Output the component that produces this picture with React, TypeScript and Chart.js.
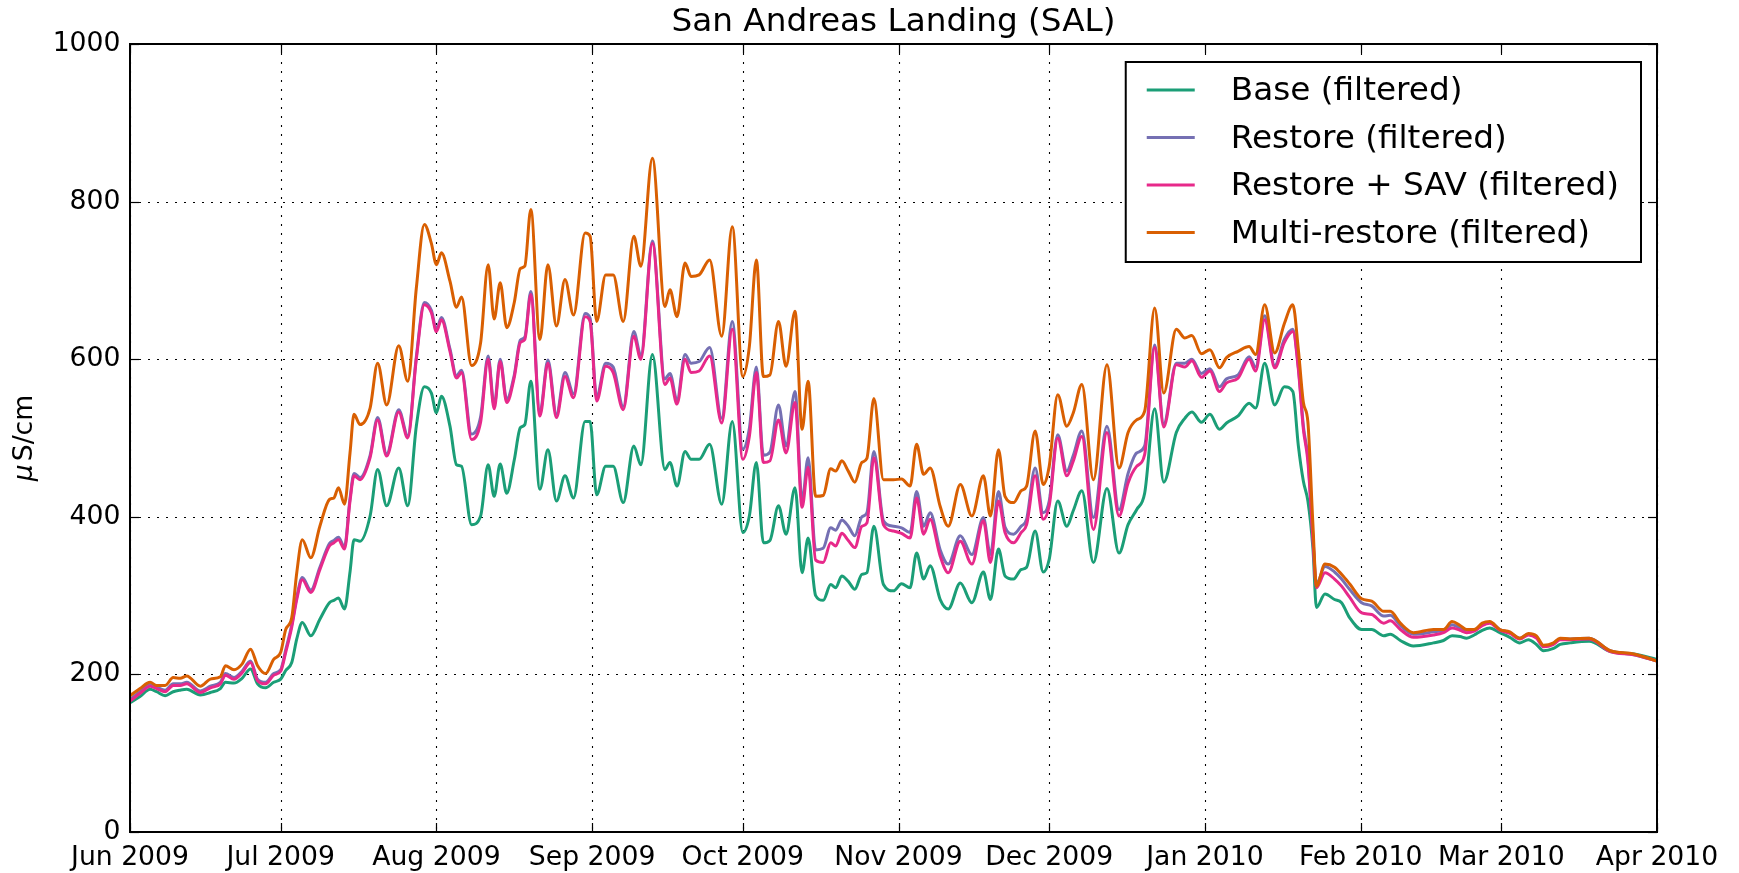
import React, { useEffect, useRef } from "react";
import { Chart, registerables } from "chart.js";

Chart.register(...registerables);

// Day offsets counted from 1 Jun 2009
const days = [
  0, 2, 4, 5.3, 7, 8.6, 10, 11.3, 14, 16,
  18, 19, 20.7, 22.3, 24, 25.4, 27, 28.6, 30, 31,
  32.2, 33.2, 34.3, 36, 37.8, 39.7, 40.6, 41.5, 42.7, 43.8,
  44.6, 45.8, 47.8, 49.3, 51.1, 53.5, 55.3, 57, 58.6, 60,
  61, 62, 63.7, 65, 66, 68, 69.8, 71.3, 72.5, 73.7,
  75, 76.5, 77.7, 78.6, 79.8, 81.6, 83.2, 84.9, 86.6, 88.3,
  90.6, 91.6, 92.9, 94.7, 96.2, 98.2, 100.3, 101.7, 104, 106.5,
  107.5, 108.9, 110.5, 111.7, 113.3, 115.4, 117.8, 119.9, 122, 123.3,
  124.7, 126.1, 127.4, 129.1, 130.6, 132.4, 133.8, 135, 136.5, 138,
  139.5, 140.5, 141.7, 143, 144.3, 145.7, 146.7, 148.1, 150, 152,
  153.6, 155.3, 156.6, 158, 159.3, 161.3, 162.9, 165.3, 167.6, 169.9,
  171.3, 172.9, 174.2, 175.9, 177.4, 178.5, 180.2, 181.8, 183, 184.7,
  186.5, 187.8, 189.5, 191.8, 194.5, 196.9, 198.7, 200.4, 202, 204,
  205.8, 208.3, 210, 211.4, 213.3, 215, 216.9, 218.3, 220.6, 222.8,
  224.1, 225.9, 227.9, 229.8, 231.5, 232.6, 233.6, 234.5, 235.5, 236.2,
  237.9, 239.8, 241.2, 242.8, 245.2, 247.2, 249.6, 250.9, 252.9, 255.5,
  259.5, 261.5, 263.2, 264.8, 266.1, 267.6, 269.2, 270.7, 272.7, 274.7,
  276.7, 278.4, 280, 281.4, 283.4, 284.7, 286.7, 290.5, 294.7, 299.4,
  304,
];

const base = [
  164, 172, 181, 178, 173, 178, 180, 181, 174, 177,
  182, 190, 189, 195, 207, 188, 183, 190, 194, 205,
  215, 245, 266, 249, 270, 291, 294, 297, 283, 330,
  371, 369, 401, 460, 414, 462, 414, 515, 565, 557,
  532, 553, 515, 466, 464, 390, 401, 466, 426, 467,
  430, 472, 513, 517, 572, 435, 485, 420, 452, 424,
  521, 521, 428, 464, 464, 418, 490, 466, 606, 460,
  469, 439, 483, 473, 473, 492, 416, 521, 380, 401,
  469, 367, 370, 414, 378, 437, 329, 373, 300, 294,
  314, 310, 325, 318, 308, 327, 329, 388, 314, 306,
  315, 310, 354, 321, 338, 295, 283, 316, 291, 330,
  295, 359, 325, 321, 333, 336, 382, 330, 346, 420,
  388, 408, 433, 342, 436, 354, 390, 409, 430, 537,
  444, 507, 525, 533, 520, 530, 511, 519, 528, 544,
  538, 595, 542, 565, 559, 490, 445, 420, 360, 285,
  302, 295, 291, 272, 257, 257, 249, 251, 243, 236,
  240, 243, 249, 248, 246, 250, 256, 259, 253, 247,
  240, 244, 238, 230, 233, 238, 240, 242, 229, 226,
  219,
];

const restore = [
  168, 178, 187, 184, 180, 188, 188, 190, 179, 185,
  190, 201, 196, 204, 217, 194, 190, 201, 206, 231,
  263, 298, 323, 307, 336, 366, 370, 374, 362, 423,
  455, 450, 478, 526, 480, 536, 503, 603, 672, 662,
  638, 653, 613, 579, 586, 505, 527, 604, 541, 600,
  549, 580, 624, 628, 686, 532, 599, 530, 583, 556,
  658, 652, 552, 595, 590, 540, 635, 605, 750, 575,
  582, 548, 606, 595, 597, 615, 525, 648, 486, 512,
  590, 478, 482, 542, 490, 559, 420, 475, 358, 360,
  386, 383, 396, 388, 376, 400, 405, 483, 395, 388,
  386, 380, 432, 388, 405, 358, 340, 376, 352, 399,
  352, 432, 387, 378, 388, 397, 462, 405, 420, 504,
  458, 478, 509, 399, 515, 409, 455, 481, 490, 618,
  518, 595, 595, 600, 582, 588, 565, 575, 580, 603,
  590, 655, 592, 625, 638, 590, 515, 475, 375, 315,
  337, 330, 321, 308, 291, 287, 274, 275, 262, 251,
  254, 256, 263, 259, 256, 256, 263, 266, 257, 253,
  246, 251, 247, 236, 239, 245, 245, 246, 230, 225,
  217,
];

const restoreSav = [
  166, 176, 185, 182, 178, 186, 186, 188, 177, 183,
  188, 199, 194, 202, 215, 192, 188, 199, 204, 228,
  260, 295, 320, 304, 333, 363, 367, 371, 359, 420,
  452, 447, 475, 523, 477, 533, 500, 600, 669, 659,
  635, 650, 610, 576, 583, 498, 520, 600, 537, 597,
  545, 577, 621, 625, 682, 528, 595, 526, 578, 551,
  654, 648, 547, 591, 583, 536, 629, 600, 747, 568,
  576, 543, 600, 583, 585, 604, 519, 638, 473, 502,
  583, 469, 471, 523, 481, 545, 412, 463, 345, 342,
  367, 363, 379, 370, 361, 388, 392, 475, 390, 382,
  379, 373, 424, 378, 397, 350, 329, 369, 340, 395,
  342, 420, 380, 367, 380, 390, 452, 397, 414, 500,
  452, 471, 502, 384, 507, 401, 443, 464, 479, 615,
  514, 593, 590, 598, 577, 585, 559, 570, 576, 600,
  585, 650, 589, 621, 635, 587, 511, 470, 371, 310,
  329, 321, 312, 298, 278, 276, 265, 268, 257, 247,
  250, 253, 259, 256, 253, 255, 262, 265, 256, 252,
  245, 250, 246, 235, 238, 244, 244, 245, 229, 225,
  217,
];

const multiRestore = [
  173, 182, 190, 186, 186, 196, 195, 198, 185, 194,
  197, 211, 206, 213, 232, 211, 201, 219, 228, 257,
  272, 329, 371, 348, 388, 422, 424, 437, 416, 481,
  530, 517, 538, 595, 542, 617, 572, 690, 771, 747,
  720, 735, 699, 666, 679, 592, 621, 720, 651, 697,
  640, 672, 715, 718, 790, 625, 720, 642, 701, 656,
  760, 756, 648, 707, 707, 648, 756, 718, 855, 667,
  688, 654, 722, 705, 707, 726, 629, 768, 578, 616,
  726, 578, 580, 648, 591, 661, 511, 572, 426, 427,
  461, 458, 471, 458, 444, 469, 474, 550, 447, 447,
  448, 439, 492, 454, 462, 413, 388, 441, 401, 452,
  401, 485, 426, 418, 433, 439, 509, 441, 464, 555,
  515, 532, 568, 447, 593, 462, 507, 523, 534, 665,
  557, 638, 627, 630, 607, 612, 589, 602, 610, 616,
  606, 669, 608, 645, 669, 612, 545, 520, 390, 312,
  340, 336, 327, 315, 296, 293, 280, 280, 265, 253,
  257, 257, 267, 262, 257, 257, 265, 267, 257, 254,
  246, 252, 249, 237, 240, 246, 245, 246, 230, 226,
  217,
];

const monthTickDays = [0, 30, 61, 92, 122, 153, 183, 214, 245, 273, 304];
const monthTickLabels = [
  "Jun 2009", "Jul 2009", "Aug 2009", "Sep 2009", "Oct 2009", "Nov 2009",
  "Dec 2009", "Jan 2010", "Feb 2010", "Mar 2010", "Apr 2010",
];
const yTickValues = [0, 200, 400, 600, 800, 1000];

const seriesLabels = [
  "Base (filtered)",
  "Restore (filtered)",
  "Restore + SAV (filtered)",
  "Multi-restore (filtered)",
];
const seriesColors = ["#1b9e77", "#7570b3", "#e7298a", "#d95f02"];
const chartTitle = "San Andreas Landing (SAL)";

const FONT = "'DejaVu Sans', sans-serif";
const TICK_SIZE = 26.67;
const BIG_SIZE = 32.7;

const gridPlugin = {
  id: "mplGrid",
  beforeDatasetsDraw(chart: any) {
    const { ctx, chartArea: a, scales } = chart;
    ctx.save();
    ctx.strokeStyle = "#000";
    ctx.lineWidth = 1.1;
    ctx.setLineDash([2, 7]);
    for (const v of monthTickDays) {
      const x = Math.round(scales.x.getPixelForValue(v)) + 0.5;
      ctx.beginPath();
      ctx.moveTo(x, a.top);
      ctx.lineTo(x, a.bottom);
      ctx.stroke();
    }
    for (const v of yTickValues) {
      const y = Math.round(scales.y.getPixelForValue(v)) + 0.5;
      ctx.beginPath();
      ctx.moveTo(a.left, y);
      ctx.lineTo(a.right, y);
      ctx.stroke();
    }
    ctx.restore();
  },
};

const framePlugin = {
  id: "mplFrame",
  afterDatasetsDraw(chart: any) {
    const { ctx, chartArea: a, scales, data } = chart;
    ctx.save();
    const line = (x1: number, y1: number, x2: number, y2: number) => {
      ctx.beginPath();
      ctx.moveTo(x1, y1);
      ctx.lineTo(x2, y2);
      ctx.stroke();
    };
    ctx.strokeStyle = "#000";
    ctx.lineWidth = 1.2;
    const tl = 9;
    for (const v of monthTickDays) {
      const x = Math.round(scales.x.getPixelForValue(v)) + 0.5;
      line(x, a.top, x, a.top + tl);
      line(x, a.bottom, x, a.bottom - tl);
    }
    for (const v of yTickValues) {
      const y = Math.round(scales.y.getPixelForValue(v)) + 0.5;
      line(a.left, y, a.left + tl, y);
      line(a.right, y, a.right - tl, y);
    }
    ctx.lineWidth = 2;
    ctx.strokeRect(a.left, a.top, a.right - a.left, a.bottom - a.top);

    // title centred over the axes
    ctx.fillStyle = "#000";
    ctx.font = `${BIG_SIZE}px ${FONT}`;
    ctx.textAlign = "center";
    ctx.textBaseline = "middle";
    ctx.fillText(chartTitle, (a.left + a.right) / 2, a.top - 21);

    // legend (upper right, inside axes)
    ctx.font = `${BIG_SIZE}px ${FONT}`;
    const labels: string[] = data.datasets.map((d: any) => d.label);
    const maxW = Math.max(...labels.map((l) => ctx.measureText(l).width));
    const textOffset = 105;
    const boxW = textOffset + maxW + 22;
    const boxH = 200;
    const boxRight = a.right - 16;
    const boxLeft = boxRight - boxW;
    const boxTop = a.top + 18;
    ctx.fillStyle = "#fff";
    ctx.fillRect(boxLeft, boxTop, boxW, boxH);
    ctx.lineWidth = 2;
    ctx.strokeStyle = "#000";
    ctx.strokeRect(boxLeft, boxTop, boxW, boxH);
    ctx.textBaseline = "middle";
    ctx.textAlign = "left";
    data.datasets.forEach((d: any, i: number) => {
      const y = boxTop + 29 + i * 47.5;
      ctx.strokeStyle = d.borderColor;
      ctx.lineWidth = 3;
      line(boxLeft + 21, y - 1, boxLeft + 69, y - 1);
      ctx.fillStyle = "#000";
      ctx.fillText(d.label, boxLeft + textOffset, y + 1);
    });

    // y axis label with italic mu
    const cy = (a.top + a.bottom) / 2;
    ctx.translate(25, cy);
    ctx.rotate(-Math.PI / 2);
    const muFont = `italic ${TICK_SIZE}px ${FONT}`;
    const restFont = `${TICK_SIZE}px ${FONT}`;
    ctx.font = muFont;
    const wm = ctx.measureText("\u03bc").width + 3;
    ctx.font = restFont;
    const wr = ctx.measureText("S/cm").width;
    const start = -(wm + wr) / 2;
    ctx.fillStyle = "#000";
    ctx.textAlign = "left";
    ctx.textBaseline = "middle";
    ctx.font = muFont;
    ctx.fillText("\u03bc", start, 0);
    ctx.font = restFont;
    ctx.fillText("S/cm", start + wm, 0);
    ctx.restore();
  },
};

export default function App() {
  const canvasRef = useRef<HTMLCanvasElement | null>(null);

  useEffect(() => {
    document.body.style.margin = "0";
    document.body.style.overflow = "hidden";
    const canvas = canvasRef.current;
    if (!canvas) return;
    const seriesValues = [base, restore, restoreSav, multiRestore];
    const chart = new Chart(canvas, {
      type: "line",
      data: {
        datasets: seriesValues.map((vals, i) => ({
          label: seriesLabels[i],
          data: days.map((d, j) => ({ x: d, y: vals[j] })),
          borderColor: seriesColors[i],
          backgroundColor: seriesColors[i],
          borderWidth: 3,
          pointRadius: 0,
          fill: false,
          cubicInterpolationMode: "monotone",
          order: 4 - i,
        })),
      },
      plugins: [gridPlugin, framePlugin],
      options: {
        responsive: false,
        animation: false,
        events: [],
        layout: { padding: { top: 44, right: 82, bottom: 0, left: 0 } },
        plugins: {
          legend: { display: false },
          tooltip: { enabled: false },
          title: { display: false },
        },
        scales: {
          x: {
            type: "linear",
            min: 0,
            max: 304,
            afterBuildTicks: (scale: any) => {
              scale.ticks = monthTickDays.map((v) => ({ value: v }));
            },
            afterFit: (scale: any) => {
              scale.height = 41;
            },
            grid: { display: false, drawTicks: false },
            border: { display: false },
            ticks: {
              autoSkip: false,
              maxRotation: 0,
              minRotation: 0,
              padding: 10,
              color: "#000",
              font: { family: FONT, size: TICK_SIZE },
              callback: (v: any) => {
                const idx = monthTickDays.indexOf(Number(v));
                return idx >= 0 ? monthTickLabels[idx] : "";
              },
            },
          },
          y: {
            type: "linear",
            min: 0,
            max: 1000,
            afterBuildTicks: (scale: any) => {
              scale.ticks = yTickValues.map((v) => ({ value: v }));
            },
            afterFit: (scale: any) => {
              scale.width = 130;
            },
            grid: { display: false, drawTicks: false },
            border: { display: false },
            ticks: {
              padding: 9.5,
              color: "#000",
              font: { family: FONT, size: TICK_SIZE },
              callback: (v: any) => String(v),
            },
          },
        },
      },
    } as any);
    return () => chart.destroy();
  }, []);

  return (
    <div style={{ width: 1739, height: 873, position: "relative" }}>
      <canvas
        ref={canvasRef}
        width={1739}
        height={873}
        style={{ display: "block", width: 1739, height: 873 }}
      />
    </div>
  );
}
